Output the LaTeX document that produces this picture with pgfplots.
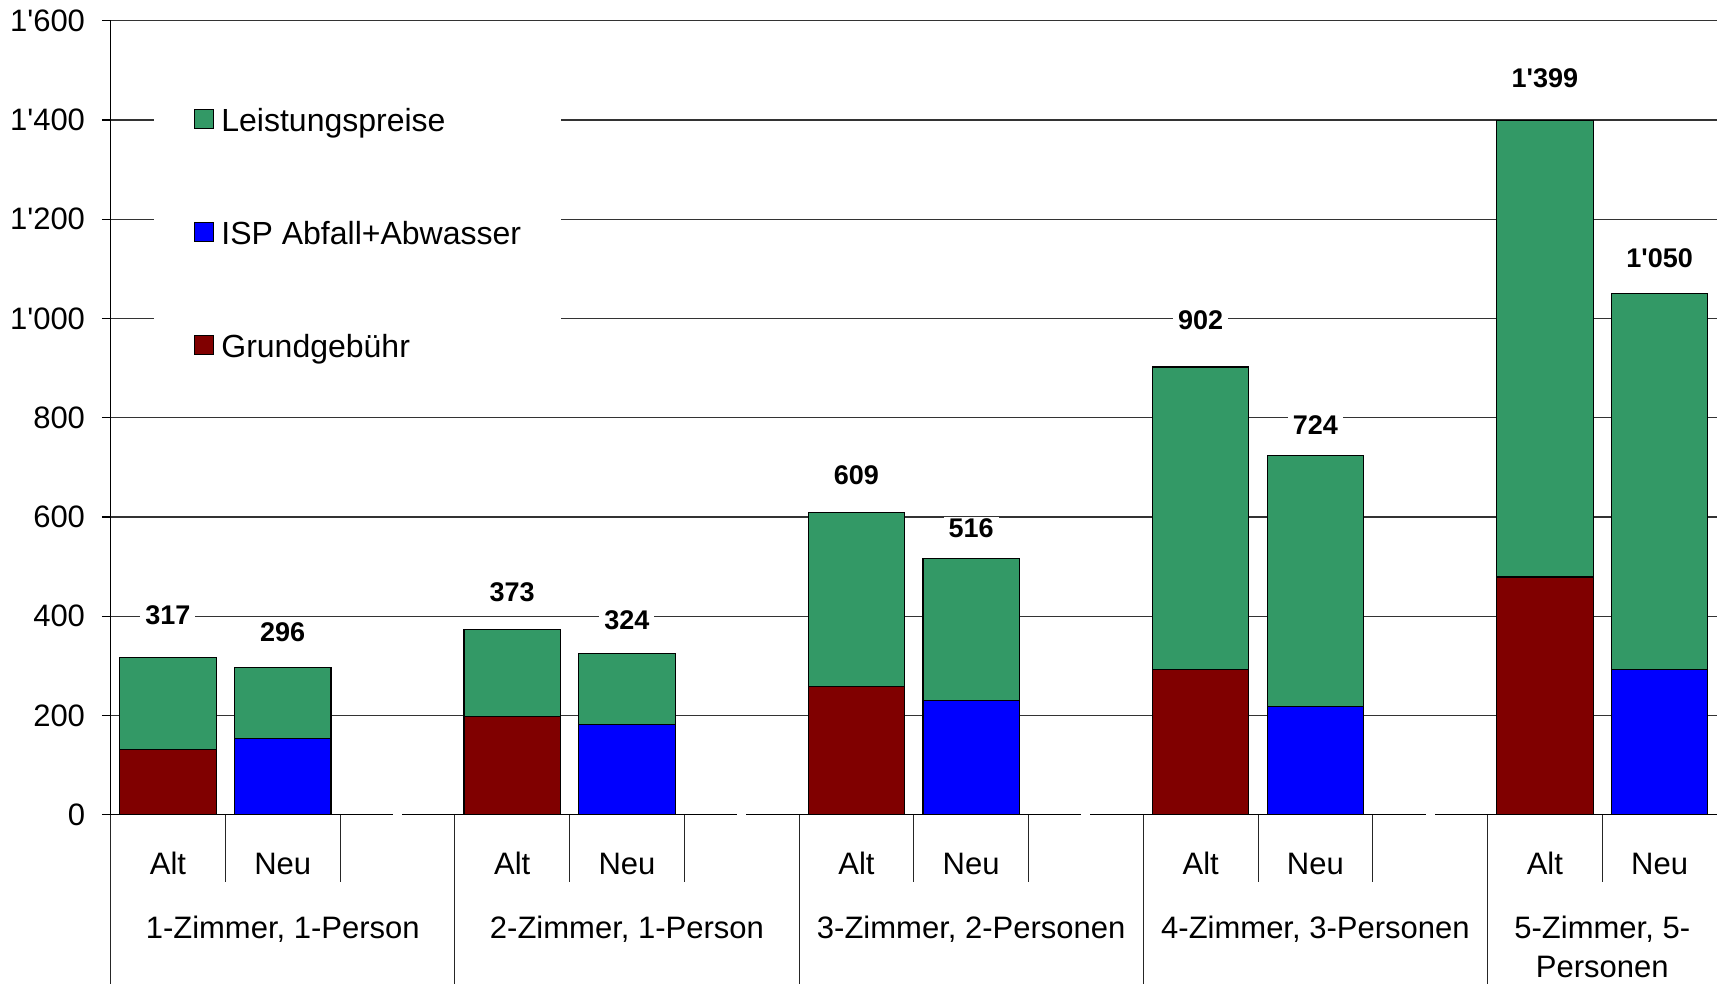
\documentclass[border=0pt]{standalone}
\usepackage{fontspec}
\setmainfont{Liberation Sans}
\usepackage{pgfplots}
\usepackage{pgfplotstable}
\pgfplotsset{compat=1.18}
\definecolor{lp}{RGB}{51,153,102}
\definecolor{isp}{RGB}{0,0,255}
\definecolor{gg}{RGB}{128,0,0}

\pgfplotstableread{
x total base ly
0 317 131 402
3 373 197 448
6 609 259 684
9 902 292 996
12 1399 479 1484
}\alt
\pgfplotstableread{
x total base ly
1 296 153 368
4 324 181 392
7 516 230 577
10 724 218 785
13 1050 292 1121
}\neu

\newcommand\txt{\fontsize{15.5}{19.2}\selectfont}
\newcommand\lgd{\fontsize{16}{19.2}\selectfont}
\newcommand\val{\fontsize{13.5}{16}\selectfont\bfseries}

\pgfplotsset{
  mybar/.style={ybar, bar width=48.2pt, bar shift=0pt, draw=black, line width=0.6pt, fill=#1,
    legend image code/.code={\draw[fill=#1, draw=black, line width=0.6pt] (0pt,-2.8pt) rectangle (9.5pt,6.7pt);}},
}

\begin{document}
\begin{tikzpicture}
\useasboundingbox (-55.3pt,-84.7pt) rectangle (803.2pt,407.3pt);
\begin{axis}[
  at={(0,0)}, anchor=south west,
  scale only axis, width=803.2pt, height=396.9pt,
  xmin=-0.5, xmax=13.5, ymin=0, ymax=1600,
  axis lines=left, axis line style={-, black, line width=0.6pt},
  clip=false,
  /pgf/number format/1000 sep={\textquotesingle},
  /pgf/number format/assume math mode=true,
  ytick={0,200,...,1400},
  extra y ticks={1600},
  extra y tick style={grid style={black!40, line width=0.5pt}},
  ymajorgrids, major grid style={black!80, line width=0.6pt},
  y tick style={black, line width=0.6pt},
  tick align=outside, major tick length=4.4pt,
  yticklabel style={font=\txt, anchor=east, inner sep=0pt, xshift=-8.2pt},
  xtick={0,1,3,4,6,7,9,10,12,13},
  xticklabels={Alt,Neu,Alt,Neu,Alt,Neu,Alt,Neu,Alt,Neu},
  x tick style={draw=none},
  xticklabel style={font=\txt, anchor=base, inner sep=0pt, yshift=-25.3pt},
  extra x ticks={1,4,7,10,12.5},
  extra x tick labels={{1-Zimmer, 1-Person\\\mbox{}},{2-Zimmer, 1-Person\\\mbox{}},{3-Zimmer, 2-Personen\\\mbox{}},{4-Zimmer, 3-Personen\\\mbox{}},{5-Zimmer, 5-\\Personen}},
  extra x tick style={xticklabel style={yshift=-51.5pt, align=center}, grid=none},
  legend cell align=left,
  legend style={at={(axis cs:-0.1236,1462.8)}, anchor=north west, fill=white, draw=none,
    inner xsep=20pt, inner ysep=10pt, row sep=42.5pt, column sep=3.5pt, font=\lgd,
    nodes={inner sep=0pt, text height=11pt, text depth=3pt}},
]
\addplot[mybar=lp] table[x=x, y=total] {\alt};
\addlegendentry{Leistungspreise}
\addplot[mybar=lp, forget plot] table[x=x, y=total] {\neu};
\addplot[mybar=isp] table[x=x, y=base] {\neu};
\addlegendentry{ISP Abfall+Abwasser}
\addplot[mybar=gg] table[x=x, y=base] {\alt};
\addlegendentry{Grundgebühr}

\addplot[draw=none, mark=none, forget plot, nodes near coords, point meta=explicit,
  nodes near coords align={center},
  every node near coord/.append style={font=\val, fill=white, inner xsep=2.5pt, inner ysep=1pt, anchor=center}]
  table[x=x, y=ly, meta=total] {\alt};
\addplot[draw=none, mark=none, forget plot, nodes near coords, point meta=explicit,
  nodes near coords align={center},
  every node near coord/.append style={font=\val, fill=white, inner xsep=2.5pt, inner ysep=1pt, anchor=center}]
  table[x=x, y=ly, meta=total] {\neu};

\pgfplotsinvokeforeach{-0.5,2.5,5.5,8.5,11.5}{
  \draw[black!85, line width=0.5pt] (axis cs:#1,0) -- ++(0pt,-84.7pt);
}
\pgfplotsinvokeforeach{0.5,1.5,3.5,4.5,6.5,7.5,9.5,10.5,12.5}{
  \draw[black!85, line width=0.5pt] (axis cs:#1,0) -- ++(0pt,-33.5pt);
}
\pgfplotsinvokeforeach{2,5,8,11}{
  \fill[white] ([xshift=-2.25pt,yshift=-1pt]axis cs:#1,0) rectangle ([xshift=2.25pt,yshift=1pt]axis cs:#1,0);
}
\end{axis}
\end{tikzpicture}
\end{document}
